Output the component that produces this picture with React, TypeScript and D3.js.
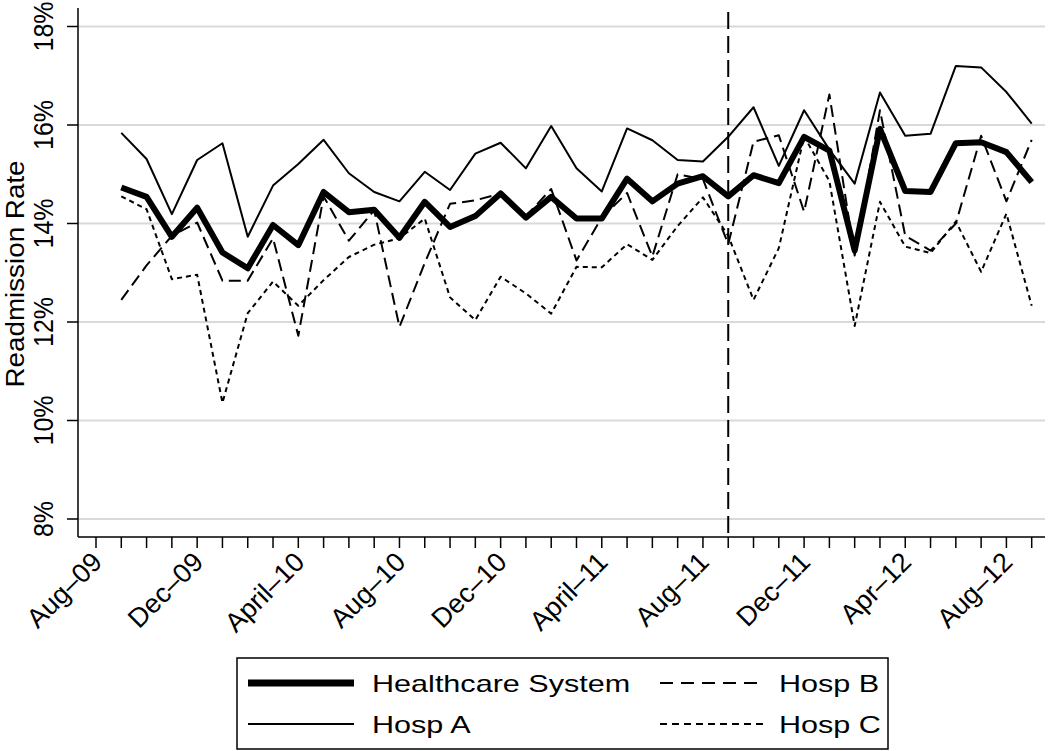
import React from "react";
import * as d3 from "d3";

// Months indexed from Aug-09 (0). Data begin Sep-09 (1) through Sep-12 (37).
const tickMonths = [0, 4, 8, 12, 16, 20, 24, 28, 32, 36];
const tickLabels = ["Aug–09", "Dec–09", "April–10", "Aug–10", "Dec–10", "April–11", "Aug–11", "Dec–11", "Apr–12", "Aug–12"];
const firstDataMonth = 1;
const interventionMonth = 25; // Sep-11
const yTicks = [8, 10, 12, 14, 16, 18];

const systemRate = [14.73, 14.54, 13.73, 14.32, 13.41, 13.09, 13.97, 13.56, 14.64, 14.23, 14.28, 13.71, 14.44, 13.93, 14.15, 14.61, 14.12, 14.54, 14.10, 14.10, 14.91, 14.45, 14.81, 14.96, 14.55, 14.98, 14.82, 15.76, 15.48, 13.45, 15.92, 14.66, 14.64, 15.63, 15.65, 15.45, 14.84];
const hospA = [15.84, 15.31, 14.19, 15.29, 15.63, 13.73, 14.77, 15.21, 15.70, 15.02, 14.64, 14.45, 15.05, 14.68, 15.42, 15.64, 15.12, 15.98, 15.12, 14.65, 15.93, 15.69, 15.29, 15.26, 15.76, 16.36, 15.17, 16.30, 15.50, 14.81, 16.66, 15.78, 15.82, 17.20, 17.17, 16.67, 16.03];
const hospB = [12.45, 13.15, 13.75, 14.02, 12.84, 12.84, 13.70, 11.72, 14.55, 13.65, 14.27, 11.90, 13.20, 14.40, 14.47, 14.61, 14.15, 14.70, 13.25, 14.12, 14.62, 13.33, 15.00, 14.90, 13.58, 15.66, 15.79, 14.24, 16.62, 13.35, 16.30, 13.75, 13.45, 14.00, 15.78, 14.45, 15.70];
const hospC = [14.55, 14.29, 12.87, 12.96, 10.36, 12.18, 12.82, 12.33, 12.85, 13.32, 13.57, 13.70, 14.10, 12.50, 12.04, 12.92, 12.58, 12.17, 13.12, 13.11, 13.58, 13.26, 13.95, 14.53, 13.75, 12.45, 13.50, 15.77, 14.86, 11.92, 14.44, 13.53, 13.40, 14.04, 13.02, 14.20, 12.33];

const legendLeft = [
  { label: "Healthcare System", width: 7, dash: undefined as string | undefined },
  { label: "Hosp A", width: 2, dash: undefined as string | undefined },
];
const legendRight = [
  { label: "Hosp B", width: 2, dash: "13,8" },
  { label: "Hosp C", width: 2, dash: "7,5" },
];

const W = 1050;
const H = 751;
const FONT = "'Liberation Sans', Arial, Helvetica, sans-serif";

export default function App() {
  const x = d3.scaleLinear().domain([0, 37]).range([96, 1031.7]);
  const y = d3.scaleLinear().domain([8, 18]).range([519, 26.5]);
  const axisLeft = 78;
  const axisBottom = 537;
  const axisRight = 1045;
  const axisTop = 8;
  const allMonths = d3.range(0, 38);

  const line = d3
    .line<number>()
    .x((_, i) => x(firstDataMonth + i))
    .y((v) => y(v));

  const series = [
    { data: hospC, width: 2, dash: "5,4" },
    { data: hospB, width: 2, dash: "12,6" },
    { data: hospA, width: 2, dash: undefined as string | undefined },
    { data: systemRate, width: 6, dash: undefined as string | undefined },
  ];

  const rowY = [683, 724];

  return (
    <svg
      width={W}
      height={H}
      style={{ position: "absolute", left: 0, top: 0, display: "block", background: "#fff" }}
      fontFamily={FONT}
    >
      {/* gridlines */}
      {yTicks.map((t) => (
        <line key={"g" + t} x1={axisLeft} x2={axisRight} y1={y(t)} y2={y(t)} stroke="#d9d9d9" strokeWidth={2} />
      ))}
      {/* axes */}
      <line x1={axisLeft} x2={axisLeft} y1={axisTop} y2={axisBottom} stroke="#000" strokeWidth={1.5} />
      <line x1={axisLeft} x2={axisRight} y1={axisBottom} y2={axisBottom} stroke="#000" strokeWidth={1.5} />
      {yTicks.map((t) => (
        <g key={"yt" + t}>
          <line x1={axisLeft - 11} x2={axisLeft} y1={y(t)} y2={y(t)} stroke="#000" strokeWidth={1.5} />
          <text
            transform={`translate(53,${y(t)}) rotate(-90) scale(1,1.1)`}
            textAnchor="middle"
            fontSize={25}
            fill="#000"
          >
            {t + "%"}
          </text>
        </g>
      ))}
      {allMonths.map((m) => (
        <line key={"xt" + m} x1={x(m)} x2={x(m)} y1={axisBottom} y2={axisBottom + 11} stroke="#000" strokeWidth={1.5} />
      ))}
      {tickMonths.map((m, i) => (
        <text
          key={"xl" + m}
          transform={`translate(${x(m) + 1},557) rotate(-45)`}
          textAnchor="end"
          dy="0.35em"
          fontSize={27}
          fill="#000"
        >
          {tickLabels[i]}
        </text>
      ))}
      <text transform={`translate(24,274) rotate(-90) scale(1.07,1)`} textAnchor="middle" fontSize={26} fill="#000">
        Readmission Rate
      </text>

      {/* intervention line */}
      <line
        x1={x(interventionMonth)}
        x2={x(interventionMonth)}
        y1={12}
        y2={axisBottom}
        stroke="#000"
        strokeWidth={2}
        strokeDasharray="17,7"
      />

      {/* series */}
      {series.map((s, i) => (
        <path
          key={"s" + i}
          d={line(s.data) || ""}
          fill="none"
          stroke="#000"
          strokeWidth={s.width}
          strokeDasharray={s.dash}
          strokeLinejoin="round"
        />
      ))}

      {/* legend */}
      <rect x={237} y={658} width={651} height={91} fill="#fff" stroke="#000" strokeWidth={1.5} />
      {legendLeft.map((it, i) => (
        <g key={"ll" + i}>
          <line x1={248} x2={354} y1={rowY[i]} y2={rowY[i]} stroke="#000" strokeWidth={it.width} strokeDasharray={it.dash} />
          <text transform={`translate(372,${rowY[i] + 8.5}) scale(1.33,1)`} fontSize={23} fill="#000">
            {it.label}
          </text>
        </g>
      ))}
      {legendRight.map((it, i) => (
        <g key={"lr" + i}>
          <line x1={660} x2={763} y1={rowY[i]} y2={rowY[i]} stroke="#000" strokeWidth={it.width} strokeDasharray={it.dash} />
          <text transform={`translate(779,${rowY[i] + 8.5}) scale(1.33,1)`} fontSize={23} fill="#000">
            {it.label}
          </text>
        </g>
      ))}
    </svg>
  );
}
